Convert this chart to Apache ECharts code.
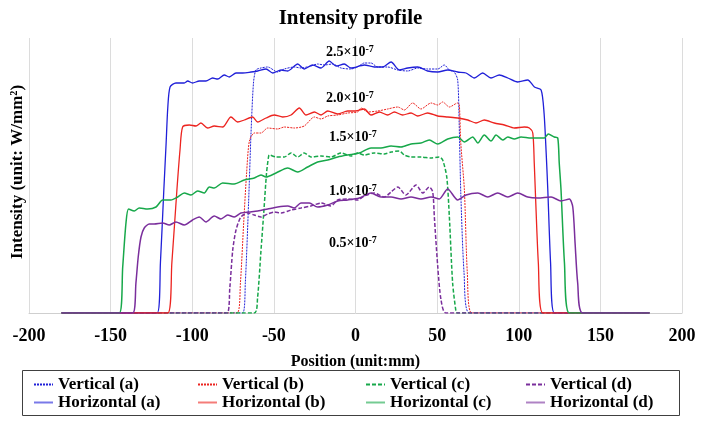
<!DOCTYPE html>
<html>
<head>
<meta charset="utf-8">
<title>Intensity profile</title>
<script src="https://cdn.jsdelivr.net/npm/echarts@6/dist/echarts.min.js"></script>
<style>
  html, body { margin: 0; padding: 0; background: #fff; }
  #chart { width: 701px; height: 421px; }
</style>
</head>
<body>
<div id="chart"></div>
<script>
// values in units of 1e-7 W/mm^2, positions in mm
var xTicks = [-200, -150, -100, -50, 0, 50, 100, 150, 200];
var levelLabels = ['2.5', '2.0', '1.5', '1.0', '0.5'];

var vertA = [[-180,0],[-69.2,0],[-67.5,0.3],[-65.5,1.1],[-64,1.8],[-62.5,2.3],[-61,2.43],[-57.9,2.45],[-53.8,2.46],[-47.7,2.41],[-43.6,2.44],[-37.5,2.46],[-33.4,2.45],[-27.3,2.47],[-23.2,2.49],[-19.1,2.48],[-14,2.49],[-8.9,2.45],[-2.8,2.44],[1.3,2.46],[5.4,2.5],[9.5,2.5],[13.6,2.46],[19.7,2.46],[25.9,2.43],[32,2.42],[38.1,2.45],[44.2,2.44],[50.4,2.44],[54.4,2.48],[57.5,2.43],[60.5,2.41],[62.6,2.33],[63.5,1.9],[64.5,1.2],[66.5,0.4],[69.7,0],[180,0]];
var vertB = [[-180,0],[-72.6,0],[-70.5,0.3],[-68.5,0.9],[-66.7,1.4],[-65,1.72],[-62,1.8],[-57.9,1.8],[-53.8,1.85],[-47.7,1.84],[-43.6,1.86],[-37.5,1.85],[-31.4,1.87],[-25.2,1.96],[-21.1,1.94],[-17,1.97],[-10.9,1.98],[-4.8,2.0],[1.3,2.01],[3.4,2.05],[7.5,2.01],[13.6,2.02],[19.7,2.04],[25.9,2.06],[29.9,2.03],[35,2.1],[40.1,2.04],[46.3,2.1],[50.4,2.08],[53.4,2.11],[57.5,2.06],[62.6,2.1],[63.6,2.08],[64.5,1.7],[66.7,1.23],[68.5,0.4],[71.2,0],[180,0]];
var vertC = [[-180,0],[-62,0],[-60,0.15],[-58,0.6],[-56,1.05],[-54.5,1.4],[-53.3,1.56],[-52.8,1.58],[-48.7,1.56],[-43.6,1.56],[-39.5,1.6],[-35.4,1.56],[-31.4,1.6],[-27.3,1.56],[-21.1,1.57],[-15,1.56],[-8.9,1.6],[-2.8,1.57],[1.3,1.6],[5.4,1.58],[11.5,1.6],[17.6,1.59],[21.8,1.61],[26.8,1.62],[29.9,1.58],[34,1.56],[40.1,1.56],[46.3,1.55],[51.3,1.56],[53.4,1.53],[55.9,1.36],[57.5,0.96],[59.5,0.3],[61.5,0.02],[62.2,0],[180,0]];
var vertD = [[-180,0],[-78.7,0],[-77,0.25],[-75.2,0.63],[-73.2,0.83],[-70.2,0.96],[-66.1,1.0],[-62,0.98],[-57.9,0.96],[-53.8,0.99],[-49.8,1.01],[-45.6,1.0],[-39.5,1.03],[-33.4,1.05],[-27.3,1.07],[-21.1,1.1],[-15,1.07],[-10.9,1.13],[-4.8,1.14],[1.3,1.13],[5.4,1.17],[11.5,1.2],[17.6,1.16],[21.8,1.21],[25.9,1.26],[30.9,1.18],[37.1,1.28],[41.2,1.2],[45.2,1.26],[47.3,1.21],[48.3,0.96],[50.4,0.46],[52.4,0.13],[55.5,0],[180,0]];

var horizA = [[-180,0],[-121.5,0],[-119.5,0.5],[-117.5,1.2],[-116,1.7],[-115,2.05],[-113.6,2.26],[-110,2.3],[-104.9,2.3],[-102.8,2.32],[-99.8,2.3],[-95.7,2.32],[-91.6,2.32],[-87.5,2.35],[-84.4,2.34],[-80.4,2.38],[-77.3,2.36],[-73.2,2.4],[-69.1,2.4],[-64,2.41],[-59.9,2.42],[-54.8,2.44],[-50.7,2.4],[-45.6,2.43],[-41.5,2.42],[-35.4,2.49],[-31.4,2.44],[-26.2,2.48],[-21.1,2.45],[-16.1,2.52],[-11.9,2.47],[-6.9,2.49],[-2.8,2.45],[5.4,2.48],[11.5,2.46],[16.7,2.46],[21.8,2.51],[26.8,2.43],[32,2.45],[38.1,2.46],[44.2,2.42],[50.4,2.41],[56.5,2.43],[62.6,2.41],[67.7,2.4],[72.8,2.35],[77.9,2.4],[83,2.35],[88.1,2.38],[93.3,2.35],[99.4,2.31],[105.5,2.33],[109.6,2.26],[113.7,2.23],[115.5,2.0],[116.8,1.6],[117.8,1.23],[119.5,0.5],[121.8,0],[180,0]];
var horizB = [[-180,0],[-115,0],[-112.5,0.5],[-109.4,1.23],[-107.5,1.63],[-105.9,1.86],[-101.8,1.88],[-97.7,1.87],[-94.7,1.9],[-90.6,1.85],[-86.5,1.87],[-81.4,1.86],[-76.3,1.96],[-72.2,1.91],[-68.1,1.93],[-63,1.96],[-59.9,1.91],[-54.8,1.95],[-49.8,1.98],[-44.6,1.96],[-39.5,1.98],[-34.4,2.05],[-30.3,1.98],[-25.2,2.01],[-21.1,1.98],[-17,2.02],[-10.9,1.99],[-4.8,2.02],[0,2.02],[5.4,2.04],[9.5,1.98],[14.6,2.01],[19.7,1.98],[23.8,2.01],[28.9,1.98],[34,2.0],[38.1,1.97],[44.2,2.0],[50.4,1.97],[56.5,1.96],[62.6,1.95],[68.8,1.93],[73.8,1.9],[78.9,1.93],[85,1.9],[91.2,1.88],[97.3,1.85],[103.4,1.86],[106.5,1.85],[108.6,1.8],[109.5,1.5],[110.2,1.2],[112,0.5],[114.7,0],[180,0]];
var horizC = [[-180,0],[-144.7,0],[-142.6,0.46],[-140.6,0.9],[-139,1.04],[-135.5,1.02],[-132.5,1.05],[-127.3,1.04],[-122.2,1.06],[-118.1,1.13],[-113.1,1.13],[-108.9,1.16],[-104.9,1.2],[-100.8,1.18],[-96.7,1.22],[-92.6,1.2],[-89.6,1.26],[-86.5,1.25],[-81.4,1.3],[-74.3,1.29],[-68.1,1.33],[-62,1.35],[-57.9,1.38],[-54.8,1.36],[-48.7,1.4],[-41.5,1.45],[-35.4,1.41],[-29.3,1.46],[-23.2,1.51],[-17,1.53],[-10.9,1.56],[-4.8,1.58],[2.3,1.6],[9.5,1.65],[15.6,1.65],[21.8,1.67],[27.9,1.66],[34,1.69],[40.1,1.7],[45.2,1.73],[50.4,1.69],[56.5,1.74],[62.6,1.76],[66.7,1.71],[71.8,1.76],[74.9,1.7],[78.9,1.78],[83,1.72],[86.1,1.78],[90.2,1.73],[93.3,1.76],[97.3,1.74],[101.4,1.76],[107.5,1.75],[111.6,1.75],[115.7,1.75],[118.1,1.79],[121.8,1.76],[123.9,1.75],[124.8,1.5],[125.9,1.23],[128,0.5],[131,0],[180,0]];
var horizD = [[-180,0],[-136.5,0],[-134.5,0.3],[-133.1,0.56],[-131.4,0.76],[-129.4,0.85],[-126.3,0.89],[-123.3,0.89],[-118.1,0.9],[-114.1,0.88],[-110,0.91],[-104.9,0.88],[-99.8,0.93],[-95.7,0.96],[-91.6,0.91],[-86.5,0.97],[-82.4,0.94],[-78.3,0.98],[-74.3,0.96],[-70.2,1.0],[-65.1,1.01],[-59.9,1.02],[-53.8,1.04],[-47.7,1.06],[-41.5,1.07],[-37.5,1.05],[-33.4,1.1],[-28.3,1.1],[-23.2,1.06],[-17,1.08],[-10.9,1.12],[-4.8,1.13],[2.3,1.15],[9.5,1.2],[15.6,1.16],[21.8,1.16],[27.9,1.14],[34,1.16],[40.1,1.14],[46.3,1.16],[51.3,1.14],[56.5,1.24],[62.6,1.13],[67.7,1.18],[74.9,1.2],[81,1.16],[87.1,1.2],[93.3,1.16],[99.4,1.2],[105.5,1.16],[111.6,1.15],[119.8,1.16],[125.9,1.12],[131,1.14],[133.1,1.06],[134.5,0.7],[136.1,0.3],[139.2,0],[180,0]];

var BLUE = '#2020d8', RED = '#ec2420', GREEN = '#17a84a', PURPLE = '#7a2e9c';
var FONT = '"Liberation Serif", "Times New Roman", serif';

function line(name, data, color, type, width) {
    return {
        name: name,
        type: 'line',
        data: data,
        symbol: 'none',
        smooth: 0.25,
        lineStyle: {color: color, width: width, type: type},
        itemStyle: {color: color}
    };
}

function legendCol(left, names) {
    return {
        orient: 'vertical',
        left: left,
        top: 376,
        padding: 0,
        itemGap: 1,
        itemWidth: 19,
        itemHeight: 10,
        itemStyle: {opacity: 0}, // hide the circle, keep the line
        data: [
            {name: names[0]},
            {name: names[1], lineStyle: {opacity: 0.6, width: 2}}
        ],
        textStyle: {fontFamily: FONT, fontWeight: 'bold', fontSize: 17, color: '#000'}
    };
}

// level labels placed next to the curves, like in the original figure
var labelPos = [[326, 52], [326, 98], [329, 137], [329, 191], [329, 243]];
var labelGraphics = levelLabels.map(function (t, i) {
    return {
        type: 'text',
        x: labelPos[i][0],
        y: labelPos[i][1],
        style: {
            text: '{b|' + t + '×10}{s|-7}',
            verticalAlign: 'middle',
            rich: {
                b: {fontFamily: FONT, fontWeight: 'bold', fontSize: 14, fill: '#000'},
                s: {fontFamily: FONT, fontWeight: 'bold', fontSize: 10, fill: '#000', verticalAlign: 'top', padding: [0, 0, 6, 0]}
            }
        },
        z: 100
    };
});

var chart = echarts.init(document.getElementById('chart'));
chart.setOption({
    animation: false,
    backgroundColor: '#fff',
    title: {
        text: 'Intensity profile',
        left: 'center',
        top: 3,
        textStyle: {fontFamily: FONT, fontWeight: 'bold', fontSize: 21, color: '#000'}
    },
    grid: {left: 29, right: 19, top: 38, bottom: 108},
    xAxis: {
        type: 'value',
        min: -200,
        max: 200,
        interval: 50,
        name: 'Position (unit:mm)',
        nameLocation: 'middle',
        nameGap: 41,
        nameTextStyle: {fontFamily: FONT, fontWeight: 'bold', fontSize: 16, color: '#000'},
        axisLine: {lineStyle: {color: '#cfcfcf'}},
        axisTick: {show: false},
        axisLabel: {
            fontFamily: FONT, fontWeight: 'bold', fontSize: 18, color: '#000', margin: 14,
            formatter: function (v) { return xTicks.indexOf(v) >= 0 ? String(v) : ''; }
        },
        splitLine: {show: true, lineStyle: {color: '#dcdcdc'}}
    },
    yAxis: {
        type: 'value',
        min: 0,
        max: 2.75,
        show: false
    },
    legend: [
        legendCol(33, ['Vertical (a)', 'Horizontal (a)']),
        legendCol(197, ['Vertical (b)', 'Horizontal (b)']),
        legendCol(365, ['Vertical (c)', 'Horizontal (c)']),
        legendCol(525, ['Vertical (d)', 'Horizontal (d)'])
    ],
    graphic: [
        {
            type: 'text',
            x: 18,
            y: 172,
            rotation: Math.PI / 2,
            style: {
                text: 'Intensity (unit: W/mm²)',
                align: 'center',
                verticalAlign: 'middle',
                fontFamily: FONT, fontWeight: 'bold', fontSize: 17, fill: '#000'
            }
        },
        {
            type: 'rect',
            shape: {x: 22.5, y: 370.5, width: 657, height: 45},
            style: {fill: null, stroke: '#404040', lineWidth: 1}
        }
    ].concat(labelGraphics),
    series: [
        line('Vertical (a)', vertA, BLUE, [2, 1], 1),
        line('Vertical (b)', vertB, RED, [2, 1], 1),
        line('Vertical (c)', vertC, GREEN, [4, 2], 1.5),
        line('Vertical (d)', vertD, PURPLE, [4, 2], 1.5),
        line('Horizontal (a)', horizA, BLUE, 'solid', 1.3),
        line('Horizontal (b)', horizB, RED, 'solid', 1.3),
        line('Horizontal (c)', horizC, GREEN, 'solid', 1.5),
        line('Horizontal (d)', horizD, PURPLE, 'solid', 1.5)
    ]
});
</script>
</body>
</html>
